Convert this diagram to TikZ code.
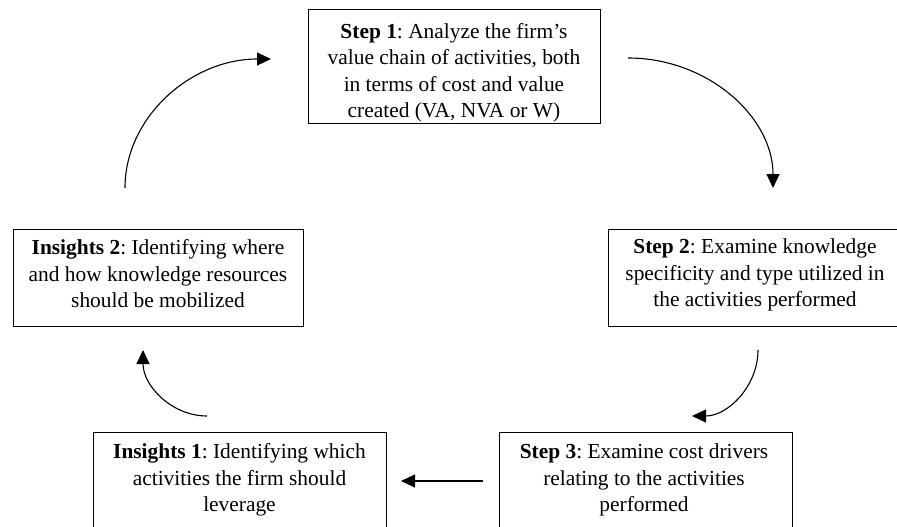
\documentclass[tikz,border=0pt]{standalone}
\usepackage{fontspec}
\setmainfont{Liberation Serif}
\usetikzlibrary{arrows.meta}
\frenchspacing
\begin{document}
\begin{tikzpicture}[x=1pt,y=-1pt,
  boxstyle/.style={draw, line width=1.2pt, inner sep=0pt, anchor=north west},
  txt/.style={align=center, inner sep=0pt, anchor=north, font=\fontsize{21.4}{26.5}\selectfont},
  flow/.style={line width=1.1pt, -{Triangle[length=14pt,width=13pt]}}]
\useasboundingbox (0,0) rectangle (897,527);
% boxes
\node[boxstyle, minimum width=292pt, minimum height=114pt] (b1) at (308,9) {};
\node[boxstyle, minimum width=292pt, minimum height=97pt] (b2) at (608,229) {};
\node[boxstyle, minimum width=293pt, minimum height=100pt] (b3) at (499,432) {};
\node[boxstyle, minimum width=293pt, minimum height=100pt] (b4) at (93,432) {};
\node[boxstyle, minimum width=290pt, minimum height=97pt] (b5) at (13,229) {};
% texts
\node[txt] (t1) at (454,23.1) {\textbf{Step 1}: Analyze the firm’s\\value chain of activities, both\\in terms of cost and value\\created (VA, NVA or W)};
\node[txt] (t2) at (755,238.7) {\textbf{Step 2}: Examine knowledge\\specificity and type utilized in\\the activities performed};
\node[txt] (t3) at (644,443.7) {\textbf{Step 3}: Examine cost drivers\\relating to the activities\\performed};
\node[txt] (t4) at (239.5,443.7) {\textbf{Insights 1}: Identifying which\\activities the firm should\\leverage};
\node[txt] (t5) at (158,239.7) {\textbf{Insights 2}: Identifying where\\and how knowledge resources\\should be mobilized};
% arrow end points
\coordinate (a1s) at (125,188);
\coordinate (a1e) at (271,59);
\coordinate (a2s) at (628,58);
\coordinate (a2e) at (773,188);
\coordinate (a3s) at (758,350);
\coordinate (a3e) at (692,416);
\coordinate (a4s) at (483,481);
\coordinate (a4e) at (401,481);
\coordinate (a5s) at (207,416);
\coordinate (a5e) at (143,350);
% arrows
\draw[flow] (a1s) .. controls +(0,-71) and +(-80,0) .. (a1e);
\draw[flow] (a2s) .. controls +(80,0) and +(0,-71) .. (a2e);
\draw[flow] (a3s) .. controls +(0,36) and +(36,0) .. (a3e);
\draw[flow] (a4s) -- (a4e);
\draw[flow] (a5s) .. controls +(-35,0) and +(0,36) .. (a5e);
\end{tikzpicture}
\end{document}
